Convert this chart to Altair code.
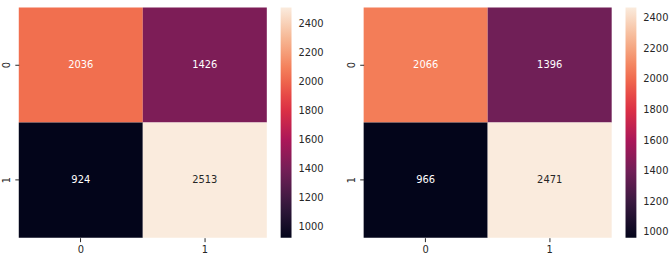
import altair as alt
import pandas as pd
import numpy as np

classes = ["0", "1"]
left_counts = [[2036, 1426], [924, 2513]]
right_counts = [[2066, 1396], [966, 2471]]
rocket_stops = ["#03051a", "#35193e", "#701f57", "#ad1759",
                "#e13342", "#f37651", "#f6b48f", "#faebdd"]
colorbar_ticks = [1000, 1200, 1400, 1600, 1800, 2000, 2200, 2400]

FONT = "DejaVu Sans"
INK = "#262626"


def panel(counts):
    rows = [{"actual": classes[i], "pred": classes[j], "count": counts[i][j]}
            for i in range(len(classes)) for j in range(len(classes))]
    df = pd.DataFrame(rows)
    lo, hi = float(df["count"].min()), float(df["count"].max())
    domain = [float(v) for v in np.linspace(lo, hi, len(rocket_stops))]
    thresh = lo + 0.85 * (hi - lo)
    base = alt.Chart(df).encode(
        x=alt.X("pred:O", sort=classes,
                scale=alt.Scale(paddingInner=0, paddingOuter=0),
                axis=alt.Axis(title=None, labelAngle=0, domain=False,
                              tickSize=4, tickColor=INK, labelPadding=3)),
        y=alt.Y("actual:O", sort=classes,
                scale=alt.Scale(paddingInner=0, paddingOuter=0),
                axis=alt.Axis(title=None, labelAngle=270, domain=False,
                              tickSize=4, tickColor=INK, labelPadding=3,
                              labelAlign="center", labelBaseline="bottom")),
    )
    rect = base.mark_rect().encode(
        color=alt.Color("count:Q",
                        scale=alt.Scale(domain=domain, range=rocket_stops,
                                        interpolate="rgb"),
                        legend=alt.Legend(title=None, values=colorbar_ticks,
                                          format="d",
                                          gradientLength=233,
                                          gradientThickness=11,
                                          gradientStrokeWidth=0,
                                          offset=14, labelFontSize=10,
                                          labelColor=INK, labelOverlap=False,
                                          labelFont=FONT, labelOffset=7))
    )
    text = base.mark_text(fontSize=10, font=FONT).encode(
        text=alt.Text("count:Q", format="d"),
        color=alt.condition(f"datum.count > {thresh}",
                            alt.value(INK), alt.value("white")),
    )
    return alt.layer(rect, text).properties(width=251, height=233)


chart = alt.hconcat(panel(left_counts), panel(right_counts), spacing=23).resolve_scale(
    color="independent"
).resolve_legend(color="independent").properties(
    padding={"left": 2, "top": 6, "right": 0, "bottom": 2}
).configure_view(stroke=None).configure_axis(
    labelFont=FONT, labelFontSize=10, labelColor=INK
)

chart.save("out.html", embed_options={"renderer": "svg", "actions": False})
